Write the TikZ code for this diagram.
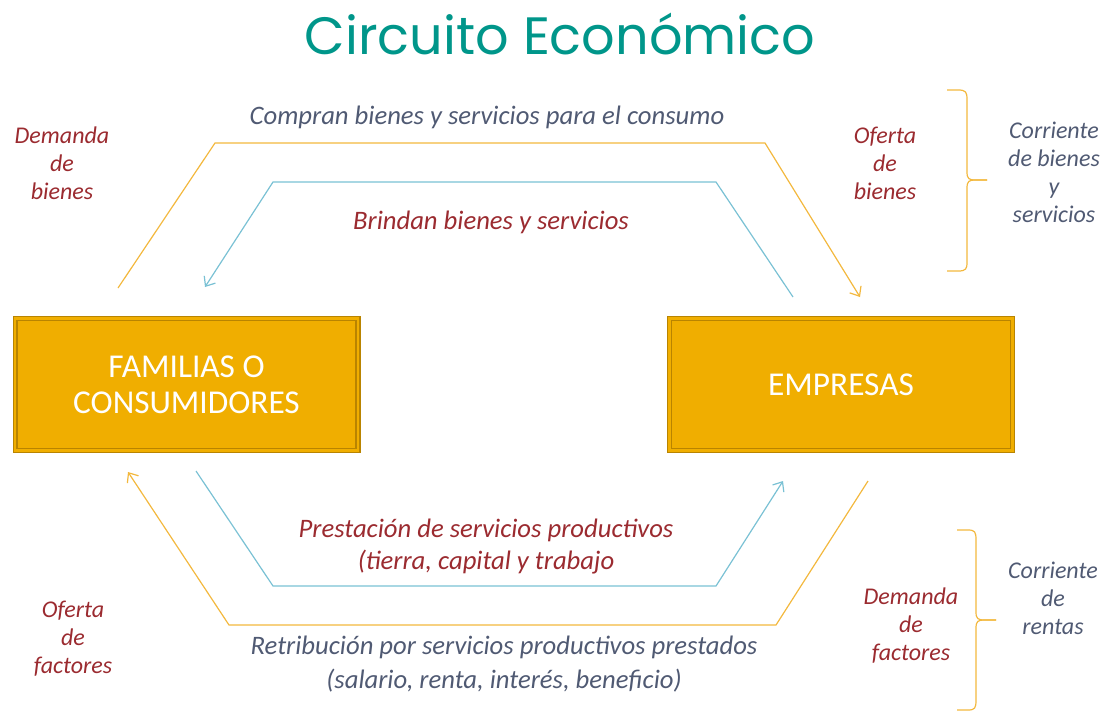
\documentclass[tikz,border=0pt]{standalone}
\usepackage{fontspec}
\setmainfont{Carlito}
\newfontfamily\titlefont{Poppins}
\usetikzlibrary{arrows.meta}
\definecolor{tituloverde}{RGB}{0,150,138}
\definecolor{naranja}{RGB}{243,184,62}
\definecolor{celeste}{RGB}{122,193,212}
\definecolor{rojotexto}{RGB}{155,43,48}
\definecolor{grisazul}{RGB}{80,90,115}
\definecolor{cajafondo}{RGB}{240,174,0}
\definecolor{cajaborde}{RGB}{185,132,0}

\tikzset{
  caja/.style={draw=cajaborde, double=cajafondo, double distance=1.8pt, line width=1.1pt,
    fill=cajafondo, minimum width=257pt, minimum height=99pt, inner sep=0pt,
    text=white, align=center, font=\fontsize{25}{27}\selectfont},
  flujo/.style={line width=0.9pt, -{Straight Barb[length=6pt,width=10pt]}},
  llave/.style={draw=naranja, line width=0.9pt},
  rotulo/.style={inner sep=0pt, align=center, text=rojotexto, font=\itshape\fontsize{18}{21}\selectfont},
  glosa/.style={inner sep=0pt, align=center, text=grisazul, font=\itshape\fontsize{18}{21}\selectfont}
}

\begin{document}
\begin{tikzpicture}[x=0.75pt,y=0.75pt,yscale=-1,xscale=1]
\path[use as bounding box] (0,0) rectangle (1105,711);

% Title
\node[inner sep=0pt, text=tituloverde, font=\titlefont\fontsize{39.4}{44}\selectfont] (titulo) at (560,34) {Circuito Económico};

%Shape: Boxes
\node[caja] (familias) at (186.5,384.5) {FAMILIAS O\\CONSUMIDORES};
\node[caja] (empresas) at (841,384.5) {EMPRESAS};

%Coordinates of the flows
\coordinate (ca0) at (118,288);
\coordinate (ca1) at (215,143);
\coordinate (ca2) at (765,143);
\coordinate (ca3) at (860,297);
\coordinate (br0) at (793,297);
\coordinate (br1) at (716,182);
\coordinate (br2) at (273,182);
\coordinate (br3) at (205,287);
\coordinate (pr0) at (196,471);
\coordinate (pr1) at (273,586);
\coordinate (pr2) at (716,586);
\coordinate (pr3) at (783,481);
\coordinate (re0) at (868,481);
\coordinate (re1) at (776,625);
\coordinate (re2) at (229,625);
\coordinate (re3) at (128,472);

%Flow Lines
\draw[flujo, naranja] (ca0) -- (ca1) -- (ca2) -- (ca3);
\draw[flujo, celeste] (br0) -- (br1) -- (br2) -- (br3);
\draw[flujo, celeste] (pr0) -- (pr1) -- (pr2) -- (pr3);
\draw[flujo, naranja] (re0) -- (re1) -- (re2) -- (re3);

%Shape: Braces
\draw[llave] (947,90) -- (958,90) .. controls (966,90) and (967,92) .. (967,100) -- (967,172) .. controls (967,179) and (969,180) .. (976,180) -- (987,180);
\draw[llave] (987,180) -- (976,180) .. controls (969,180) and (967,181) .. (967,188) -- (967,262) .. controls (967,269) and (966,271) .. (958,271) -- (947,271);
\draw[llave] (957,530) -- (968,530) .. controls (975,530) and (976,532) .. (976,540) -- (976,612) .. controls (976,619) and (978,620) .. (985,620) -- (996,620);
\draw[llave] (996,620) -- (985,620) .. controls (978,620) and (976,621) .. (976,628) -- (976,700) .. controls (976,708) and (975,710) .. (968,710) -- (957,710);

% Text Node
\node[glosa, font=\itshape\fontsize{20}{24}\selectfont] (compran) at (487,117) {Compran bienes y servicios para el consumo};
% Text Node
\node[rotulo, font=\itshape\fontsize{20}{24}\selectfont] (brindan) at (491,222) {Brindan bienes y servicios};
% Text Node
\node[rotulo, font=\itshape\fontsize{20}{24}\selectfont] (prestacion) at (486,547) {Prestación de servicios productivos\\(tierra, capital y trabajo};
% Text Node
\node[glosa, font=\itshape\fontsize{20}{25.5}\selectfont] (retribucion) at (504,664) {Retribución por servicios productivos prestados\\(salario, renta, interés, beneficio)};
% Text Node
\node[rotulo] (dembienes) at (62,163) {Demanda\\de\\bienes};
% Text Node
\node[rotulo] (ofebienes) at (885,163) {Oferta\\de\\bienes};
% Text Node
\node[rotulo] (ofefactores) at (73,639) {Oferta\\de\\factores};
% Text Node
\node[rotulo] (demfactores) at (911,626) {Demanda\\de\\factores};
% Text Node
\node[glosa] (corbienes) at (1054,172) {Corriente\\de bienes\\y\\servicios};
% Text Node
\node[glosa] (correntas) at (1053,598) {Corriente\\de\\rentas};

\end{tikzpicture}
\end{document}
